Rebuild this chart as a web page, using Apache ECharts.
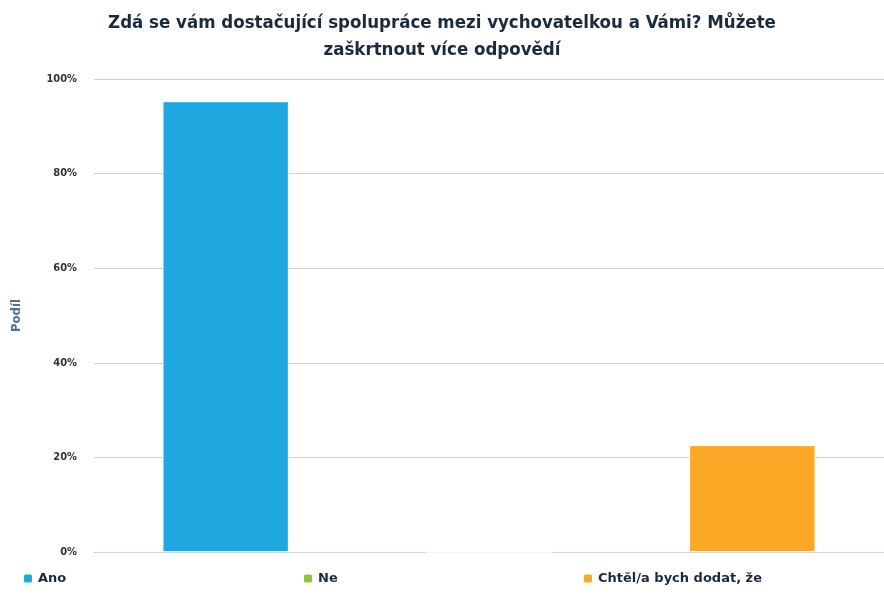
<!DOCTYPE html>
<html>
<head>
<meta charset="utf-8">
<script src="https://cdn.jsdelivr.net/npm/echarts@6/dist/echarts.min.js"></script>
<style>
  html, body { margin: 0; padding: 0; background: #fff; }
  #chart { width: 884px; height: 596px; }
</style>
</head>
<body>
<div id="chart"></div>
<script>
const categories = ['Ano', 'Ne', 'Chtěl/a bych dodat, že']
const ano = [95.3, '-', '-']
const ne = ['-', 0, '-']
const chtel = ['-', '-', 22.6]
const colors = ['#1fa8e0', '#8cc63f', '#faa825']

const chart = echarts.init(document.getElementById('chart'))

function bar(name, data, color) {
  return {
    name: name,
    type: 'bar',
    stack: 'total',
    data: data,
    barWidth: '48%',
    itemStyle: { color: color, borderColor: '#ffffff', borderWidth: 1 }
  }
}

// one legend per item so they sit ~280px apart like the original
const legendLefts = [17, 297, 577]
const legends = categories.map((c, i) => ({
  bottom: 6,
  left: legendLefts[i],
  itemWidth: 10,
  itemHeight: 10,
  itemGap: 0,
  icon: 'roundRect',
  data: [c],
  textStyle: {
    fontFamily: 'DejaVu Sans',
    fontSize: 13,
    fontWeight: 'bold',
    color: '#1c2b3c'
  }
}))

chart.setOption({
  animation: false,
  color: colors,
  title: {
    text: 'Zdá se vám dostačující spolupráce mezi vychovatelkou a Vámi? Můžete\nzaškrtnout více odpovědí',
    left: 'center',
    top: 5,
    textStyle: {
      fontFamily: 'DejaVu Sans Condensed',
      fontSize: 18.5,
      fontWeight: 'bold',
      color: '#1c2b3c',
      lineHeight: 27
    }
  },
  legend: legends,
  grid: {
    left: 94,
    width: 794,
    top: 79,
    bottom: 44,
    containLabel: false
  },
  xAxis: {
    type: 'category',
    data: categories,
    axisLine: { lineStyle: { color: '#ccd6eb' } },
    axisTick: { alignWithLabel: true, length: 8, lineStyle: { color: '#ccd6eb' } },
    axisLabel: { show: false }
  },
  yAxis: {
    type: 'value',
    min: 0,
    max: 100,
    interval: 20,
    name: 'Podíl',
    nameLocation: 'middle',
    nameGap: 71,
    nameTextStyle: {
      fontFamily: 'DejaVu Sans Condensed',
      fontSize: 13,
      fontWeight: 'bold',
      color: '#4d7198'
    },
    axisLabel: {
      formatter: '{value}%',
      fontFamily: 'DejaVu Sans Condensed',
      fontSize: 11,
      fontWeight: 'bold',
      color: '#333333',
      margin: 17
    },
    splitLine: { lineStyle: { color: '#d0d0d0' } }
  },
  series: [
    bar(categories[0], ano, colors[0]),
    bar(categories[1], ne, colors[1]),
    bar(categories[2], chtel, colors[2])
  ]
})
</script>
</body>
</html>
